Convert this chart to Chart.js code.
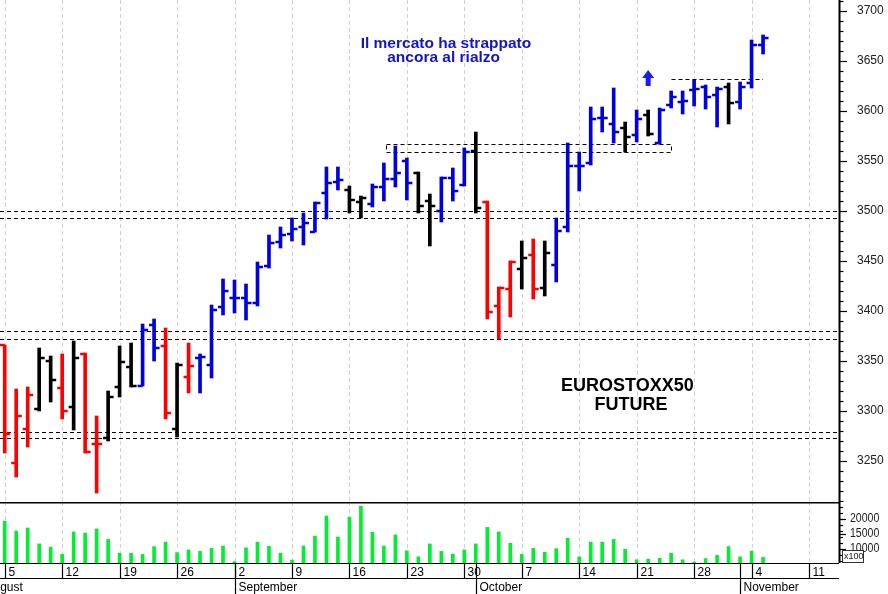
<!DOCTYPE html>
<html lang="it">
<head>
<meta charset="UTF-8">
<title>EUROSTOXX50 Future</title>
<script src="https://cdn.jsdelivr.net/npm/chart.js"></script>
<style>
  body { margin: 0; background: #fff; }
  #wrap { position: relative; width: 888px; height: 594px; overflow: hidden; background: #fff; }
  #priceChart { position: absolute; left: 0; top: 0; }
  #volChart { position: absolute; left: 0; top: 502px; }
</style>
</head>
<body>
<div id="wrap">
  <canvas id="priceChart" width="888" height="502"></canvas>
  <canvas id="volChart" width="888" height="92"></canvas>
</div>
<script>
// daily bars, index 0 = Mon 5 Aug 2019 ... index 66 = Tue 5 Nov 2019
const opens  = [3366,3248,3282,3302,3350,3323,3304,3357,3267,3273,3324,3344,3325,3386,3365,3282,3334,3353,3346,3404,
                3413,3413,3408,3445,3469,3477,3484,3479,3518,3529,3521,3509,3507,3524,3532,3550,3538,3510,3500,3533,
                3526,3560,3509,3405,3422,3442,3456,3423,3446,3484,3545,3548,3593,3587,3583,3576,3596,3568,3606,3609,
                3621,3624,3616,3624,3609,3628,3666];
const highs  = [3366,3322,3324,3363,3355,3357,3370,3358,3295,3320,3365,3368,3387,3392,3383,3348,3368,3357,3406,3432,
                3431,3427,3449,3476,3484,3493,3498,3509,3544,3544,3525,3515,3527,3548,3565,3553,3539,3517,3534,3543,
                3563,3579,3510,3424,3450,3470,3472,3470,3493,3568,3559,3604,3604,3623,3589,3601,3601,3603,3620,3620,
                3631,3626,3624,3628,3629,3671,3676];
const lows   = [3258,3234,3264,3300,3309,3292,3281,3258,3218,3270,3314,3324,3325,3350,3292,3274,3318,3318,3333,3396,
                3398,3391,3405,3443,3463,3470,3466,3479,3492,3521,3498,3493,3504,3510,3524,3511,3498,3465,3489,3510,
                3525,3498,3392,3372,3394,3422,3412,3415,3429,3479,3520,3546,3579,3568,3559,3569,3575,3567,3603,3597,
                3605,3602,3584,3587,3602,3623,3657];
const closes = [3277,3295,3316,3353,3331,3300,3353,3259,3267,3314,3349,3325,3381,3363,3298,3346,3345,3354,3401,3420,
                3413,3408,3444,3468,3476,3482,3488,3508,3528,3531,3511,3513,3524,3532,3538,3528,3505,3505,3533,3520,
                3559,3503,3399,3423,3449,3453,3422,3458,3480,3545,3545,3592,3593,3579,3574,3592,3577,3601,3614,3610,
                3622,3614,3622,3608,3624,3666,3673];
// r = red, k = black, b = blue
const barColors = ['r','r','r','k','k','r','k','r','r','k','k','k','b','b','r','k','r','b','b','b',
                   'b','b','b','b','b','b','b','b','b','b','k','k','b','b','b','b','k','k','b','b',
                   'b','k','r','r','r','k','r','k','b','b','b','b','b','b','k','b','k','b','b','b',
                   'b','b','b','k','b','b','b'];
// volume, x100 contracts
const volumes = [19300,16000,17000,11700,10600,8200,15700,15300,16700,13200,8600,8600,8200,10800,12300,8800,9700,9200,10200,11000,
                 5800,10400,12300,10900,8600,6300,11000,14300,21000,14000,20600,24300,15600,11000,14700,9400,7400,11700,9200,8300,
                 9700,11700,17200,15700,11900,8200,10200,8900,10100,13600,7400,12300,12300,13200,9900,6400,6600,6900,8600,6400,
                 5700,6800,7900,10800,7400,9300,7200];

const weekLabels = ['5','12','19','26','2','9','16','23','30','7','14','21','28','4','11'];
const weekIdx = weekLabels.map((_, k) => k * 5);
const monthNames = ['August','September','October','November'];
const monthStartIdx = [-2, 20, 41, 64];
const priceTicks = [3250,3300,3350,3400,3450,3500,3550,3600,3650,3700];
const volTicks = [10000,15000,20000];
const supportLevels = [3500,3493,3380,3372,3279,3273];
const boxLevels = [3567,3559];      // dashed box, from bar 33 to bar 58
const breakoutLevel = 3632;          // dashed line, bar 58 to bar 66

const palette = { r: '#ff0000', k: '#000000', b: '#0000e0' };
const X_MIN = -0.41, X_MAX = 72.61;
const FONT = '"Liberation Sans", Arial, sans-serif';

function seg(ctx, x1, y1, x2, y2) {
  ctx.beginPath(); ctx.moveTo(x1, y1); ctx.lineTo(x2, y2); ctx.stroke();
}

function drawWeekGrid(ctx, x, top, bottom) {
  ctx.save();
  ctx.strokeStyle = 'rgba(0,0,0,0.17)';
  ctx.lineWidth = 1;
  ctx.setLineDash([4, 3]);
  weekIdx.forEach(i => {
    const px = Math.round(x.getPixelForValue(i)) + 0.5;
    seg(ctx, px, top, px, bottom);
  });
  ctx.restore();
}

const priceDecor = {
  id: 'priceDecor',
  beforeDatasetsDraw(chart) {
    const { ctx, chartArea: a, scales: { x, y } } = chart;
    drawWeekGrid(ctx, x, a.top, a.bottom);
    ctx.save();
    ctx.strokeStyle = '#000';
    ctx.lineWidth = 1;
    ctx.setLineDash([4, 3]);
    supportLevels.forEach(v => {
      const py = Math.round(y.getPixelForValue(v)) + 0.5;
      seg(ctx, a.left, py, a.right, py);
    });
    const bx1 = Math.round(x.getPixelForValue(33.15)) + 0.5;
    const bx2 = Math.round(x.getPixelForValue(58)) + 0.5;
    const by1 = Math.round(y.getPixelForValue(boxLevels[0])) + 0.5;
    const by2 = Math.round(y.getPixelForValue(boxLevels[1])) + 0.5;
    ctx.strokeRect(bx1, by1, bx2 - bx1, by2 - by1);
    const ry = Math.round(y.getPixelForValue(breakoutLevel)) + 0.5;
    seg(ctx, bx2, ry, x.getPixelForValue(66), ry);
    ctx.restore();
  },
  afterDatasetsDraw(chart) {
    const { ctx, scales: { y } } = chart;
    const meta = chart.getDatasetMeta(0);
    ctx.save();
    ctx.lineWidth = 2.5;
    meta.data.forEach((bar, i) => {
      ctx.strokeStyle = palette[barColors[i]];
      const yo = y.getPixelForValue(opens[i]);
      const yc = y.getPixelForValue(closes[i]);
      seg(ctx, bar.x - 5, yo, bar.x, yo);
      seg(ctx, bar.x, yc, bar.x + 5.5, yc);
    });
    ctx.restore();
  },
  afterDraw(chart) {
    const { ctx, chartArea: a, scales: { x, y } } = chart;
    ctx.save();
    // right price axis
    ctx.strokeStyle = '#000';
    ctx.lineWidth = 2;
    seg(ctx, a.right + 0.5, 0, a.right + 0.5, chart.height);
    ctx.lineWidth = 1.2;
    for (let v = 3210; v <= 3710; v += 10) {
      const py = Math.round(y.getPixelForValue(v)) + 0.5;
      seg(ctx, a.right, py, a.right + (v % 50 === 0 ? 8 : 4.5), py);
    }
    ctx.fillStyle = '#202020';
    ctx.font = '12px ' + FONT;
    ctx.textAlign = 'left';
    ctx.textBaseline = 'middle';
    priceTicks.forEach(v => ctx.fillText(String(v), a.right + 18, y.getPixelForValue(v)));

    // notes
    ctx.textAlign = 'center';
    ctx.fillStyle = '#1414c8';
    ctx.font = 'bold 15.5px ' + FONT;
    ctx.fillText('Il mercato ha strappato', x.getPixelForValue(38.4), y.getPixelForValue(3667));
    ctx.fillText('ancora al rialzo', x.getPixelForValue(38.2), y.getPixelForValue(3653));
    ctx.fillStyle = '#000';
    ctx.font = 'bold 18px ' + FONT;
    ctx.fillText('EUROSTOXX50', x.getPixelForValue(54.2), y.getPixelForValue(3325));
    ctx.fillText('FUTURE', x.getPixelForValue(54.5), y.getPixelForValue(3306));

    // up arrow
    const ax = x.getPixelForValue(56);
    const at = y.getPixelForValue(3641), ab = y.getPixelForValue(3625);
    ctx.fillStyle = '#1a1aff';
    ctx.beginPath();
    ctx.moveTo(ax, at);
    ctx.lineTo(ax + 6, at + 8);
    ctx.lineTo(ax + 2.5, at + 8);
    ctx.lineTo(ax + 2.5, ab);
    ctx.lineTo(ax - 2.5, ab);
    ctx.lineTo(ax - 2.5, at + 8);
    ctx.lineTo(ax - 6, at + 8);
    ctx.closePath();
    ctx.fill();
    ctx.restore();
  }
};

const volDecor = {
  id: 'volDecor',
  beforeDatasetsDraw(chart) {
    const { ctx, chartArea: a, scales: { x } } = chart;
    drawWeekGrid(ctx, x, a.top, a.bottom);
  },
  afterDraw(chart) {
    const { ctx, chartArea: a, scales: { x, y } } = chart;
    ctx.save();
    ctx.strokeStyle = '#000';
    // separator with price pane
    ctx.lineWidth = 1.5;
    seg(ctx, 0, 0.75, a.right, 0.75);
    // right axis
    ctx.lineWidth = 2;
    seg(ctx, a.right + 0.5, 0, a.right + 0.5, a.bottom);
    ctx.lineWidth = 1.2;
    for (let v = 6000; v <= 26000; v += 2000) {
      const py = Math.round(y.getPixelForValue(v)) + 0.5;
      if (py < a.top || py > a.bottom) continue;
      seg(ctx, a.right, py, a.right + 4, py);
    }
    volTicks.forEach(v => {
      const py = Math.round(y.getPixelForValue(v)) + 0.5;
      seg(ctx, a.right, py, a.right + 7, py);
    });
    ctx.fillStyle = '#202020';
    ctx.textBaseline = 'middle';
    ctx.textAlign = 'left';
    volTicks.forEach(v => {
      ctx.save();
      ctx.translate(a.right + 11, y.getPixelForValue(v));
      ctx.scale(0.88, 1);
      ctx.font = '12px ' + FONT;
      ctx.fillText(String(v), 0, 0);
      ctx.restore();
    });
    // x100 box
    ctx.fillStyle = '#fff';
    ctx.fillRect(a.right + 3, a.bottom - 13, 21, 12);
    ctx.lineWidth = 1;
    ctx.strokeStyle = '#333';
    ctx.strokeRect(a.right + 3.5, a.bottom - 12.5, 21, 12);
    ctx.fillStyle = '#202020';
    ctx.font = '9px ' + FONT;
    ctx.fillText('x100', a.right + 5, a.bottom - 6.5);

    // date axis
    ctx.strokeStyle = '#000';
    ctx.lineWidth = 1.2;
    const b = a.bottom;
    seg(ctx, 0, b + 0.5, a.right, b + 0.5);
    seg(ctx, 0, b + 15.5, a.right, b + 15.5);
    ctx.fillStyle = '#000';
    ctx.font = '12px ' + FONT;
    ctx.textBaseline = 'alphabetic';
    weekIdx.forEach((i, k) => {
      const px = Math.round(x.getPixelForValue(i)) + 0.5;
      if (px > a.right) return;
      seg(ctx, px, b, px, b + 15);
      ctx.fillText(weekLabels[k], px + 3, b + 13);
    });
    monthStartIdx.forEach((i, k) => {
      const px = Math.round(x.getPixelForValue(i)) + 0.5;
      seg(ctx, px, b, px, chart.height);
      ctx.fillText(monthNames[k], px + 3, b + 28);
    });
    ctx.restore();
  }
};

new Chart(document.getElementById('priceChart'), {
  type: 'bar',
  data: {
    datasets: [{
      data: highs.map((h, i) => ({ x: i, y: [lows[i], h] })),
      backgroundColor: barColors.map(c => palette[c]),
      borderWidth: 0,
      barThickness: 3
    }]
  },
  options: {
    responsive: false,
    animation: false,
    devicePixelRatio: 1,
    layout: { padding: { right: 49 } },
    plugins: { legend: { display: false }, tooltip: { enabled: false } },
    scales: {
      x: { type: 'linear', min: X_MIN, max: X_MAX, offset: false, display: false },
      y: { min: 3209, max: 3711, display: false }
    }
  },
  plugins: [priceDecor]
});

new Chart(document.getElementById('volChart'), {
  type: 'bar',
  data: {
    datasets: [{
      data: volumes.map((v, i) => ({ x: i, y: [0, v] })),
      backgroundColor: '#00f030',
      borderWidth: 0,
      barThickness: 3
    }]
  },
  options: {
    responsive: false,
    animation: false,
    devicePixelRatio: 1,
    layout: { padding: { right: 49, bottom: 31 } },
    plugins: { legend: { display: false }, tooltip: { enabled: false } },
    scales: {
      x: { type: 'linear', min: X_MIN, max: X_MAX, offset: false, display: false },
      y: { min: 5333, max: 25667, display: false }
    }
  },
  plugins: [volDecor]
});
</script>
</body>
</html>
